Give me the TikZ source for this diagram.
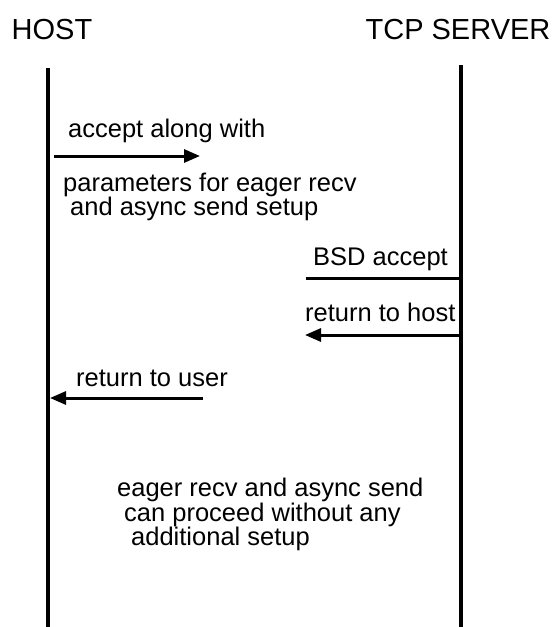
\documentclass[tikz,border=0pt]{standalone}
\usepackage{fontspec}
\setmainfont{Liberation Sans}
\usetikzlibrary{arrows.meta}
\begin{document}
\begin{tikzpicture}[x=1pt,y=-1pt,
  lbl/.style={anchor=mid west,inner sep=0pt,font=\fontsize{25.5}{28}\selectfont},
  title/.style={anchor=mid,inner sep=0pt,font=\fontsize{29}{31}\selectfont},
  life/.style={line width=3.4pt},
  msg/.style={line width=3pt,-{Triangle[length=16pt,width=13pt]}},
  plain/.style={line width=3pt}]
\useasboundingbox (0,0) rectangle (560,627);
% participants
\node[title] (host) at (52,37) {HOST};
\node[title] (srv) at (458,37) {TCP SERVER};
% lifelines
\coordinate (hTop) at (48,68);
\coordinate (hBot) at (48,627);
\coordinate (sTop) at (461,65);
\coordinate (sBot) at (461,627);
\draw[life] (hTop) -- (hBot);
\draw[life] (sTop) -- (sBot);
% host -> server request
\coordinate (a1s) at (54,156);
\coordinate (a1e) at (200,156);
\draw[msg] (a1s) -- (a1e);
\node[lbl] (t1) at (68,135) {accept along with};
\node[lbl] (t2) at (63,189) {parameters for eager recv};
\node[lbl] (t3) at (70,213) {and async send setup};
% server-side accept
\coordinate (a2s) at (459,278);
\coordinate (a2e) at (306,278);
\draw[plain] (a2s) -- (a2e);
\node[lbl] (t4) at (313,263) {BSD accept};
% reply to host
\coordinate (a3s) at (459,335);
\coordinate (a3e) at (305,335);
\draw[msg] (a3s) -- (a3e);
\node[lbl] (t5) at (305,319) {return to host};
% reply to user
\coordinate (a4s) at (203,398);
\coordinate (a4e) at (50,398);
\draw[msg] (a4s) -- (a4e);
\node[lbl] (t6) at (76,384) {return to user};
% closing note
\node[lbl] (n1) at (117,494) {eager recv and async send};
\node[lbl] (n2) at (124,519) {can proceed without any};
\node[lbl] (n3) at (131,543) {additional setup};
\end{tikzpicture}
\end{document}
